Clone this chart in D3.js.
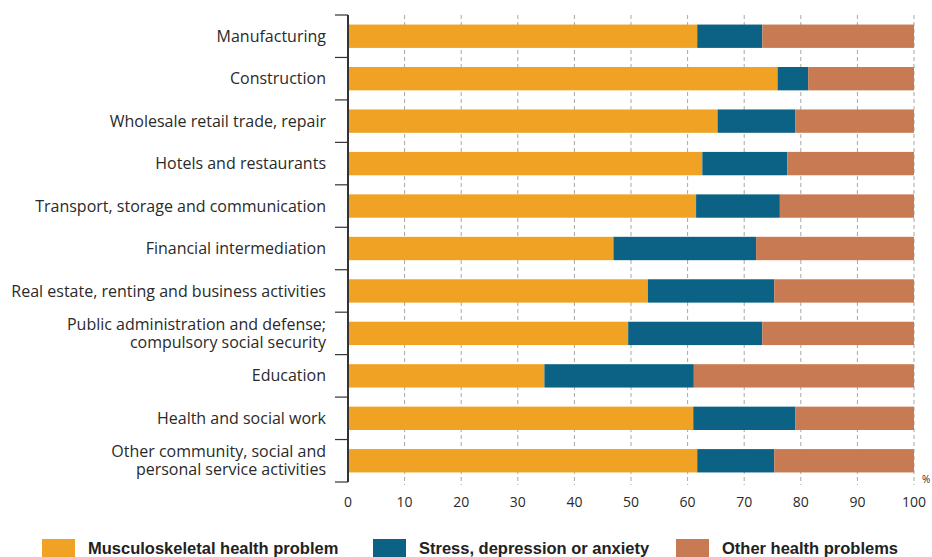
<!DOCTYPE html>
<html>
<head>
<meta charset="utf-8">
<script src="https://cdn.jsdelivr.net/npm/d3@7"></script>
<style>
  body { margin: 0; background: #fff; }
  svg { display: block; }
</style>
</head>
<body>
<div id="chart"></div>
<script>
const sectors = [
  ["Manufacturing"],
  ["Construction"],
  ["Wholesale retail trade, repair"],
  ["Hotels and restaurants"],
  ["Transport, storage and communication"],
  ["Financial intermediation"],
  ["Real estate, renting and business activities"],
  ["Public administration and defense;", "compulsory social security"],
  ["Education"],
  ["Health and social work"],
  ["Other community, social and", "personal service activities"]
]
const musculoskeletal = [61.7, 75.9, 65.3, 62.6, 61.5, 46.9, 53.0, 49.5, 34.7, 61.0, 61.7]
const stress = [11.5, 5.4, 13.7, 15.0, 14.8, 25.2, 22.3, 23.7, 26.4, 18.0, 13.6]
const other = [26.8, 18.7, 21.0, 22.4, 23.7, 27.9, 24.7, 26.8, 38.9, 21.0, 24.7]
const seriesNames = ["Musculoskeletal health problem", "Stress, depression or anxiety", "Other health problems"]
const xTicks = [0, 10, 20, 30, 40, 50, 60, 70, 80, 90, 100]

const colors = ["#f0a224", "#0b6285", "#c87a52"]
const width = 932, height = 557
const margin = { top: 15, left: 348, right: 18, bottom: 75 }

const svg = d3.select("#chart").append("svg")
  .attr("width", width)
  .attr("height", height)

const rows = sectors.map((s, i) => ({ key: i, label: s, m: musculoskeletal[i], s: stress[i], o: other[i] }))
const stack = d3.stack().keys(["m", "s", "o"])(rows)

const x = d3.scaleLinear().domain([0, 100]).range([margin.left, width - margin.right])
const y = d3.scaleBand().domain(rows.map(d => d.key))
  .range([margin.top, height - margin.bottom]).paddingInner(0.45).paddingOuter(0.225)
const step = y.step()
const bottom = height - margin.bottom

// dashed grid
svg.append("g").selectAll("line")
  .data(xTicks.slice(1))
  .join("line")
  .attr("x1", d => x(d)).attr("x2", d => x(d))
  .attr("y1", margin.top).attr("y2", bottom + 3)
  .attr("stroke", "#a8a8a0")
  .attr("stroke-width", 1)
  .attr("stroke-dasharray", "4,3")

// bars
svg.append("g").selectAll("g")
  .data(stack)
  .join("g")
  .attr("fill", (d, i) => colors[i])
  .selectAll("rect")
  .data(d => d)
  .join("rect")
  .attr("x", d => x(d[0]))
  .attr("y", d => y(d.data.key))
  .attr("width", d => x(d[1]) - x(d[0]))
  .attr("height", y.bandwidth())

// left axis with boundary ticks
const axisG = svg.append("g")
axisG.append("line")
  .attr("x1", x(0)).attr("x2", x(0))
  .attr("y1", margin.top).attr("y2", bottom)
  .attr("stroke", "#333").attr("stroke-width", 2)
axisG.selectAll("line.bt")
  .data(d3.range(rows.length + 1))
  .join("line")
  .attr("class", "bt")
  .attr("x1", x(0) - 13).attr("x2", x(0))
  .attr("y1", i => margin.top + i * step).attr("y2", i => margin.top + i * step)
  .attr("stroke", "#333").attr("stroke-width", 1.2)

// category labels
const labels = svg.append("g")
  .attr("font-family", "'Open Sans', sans-serif")
  .attr("font-size", 16)
  .attr("fill", "#2a2a2a")
  .attr("text-anchor", "end")
rows.forEach(r => {
  const cy = y(r.key) + y.bandwidth() / 2
  const n = r.label.length
  r.label.forEach((line, j) => {
    labels.append("text")
      .attr("x", x(0) - 22)
      .attr("y", cy + (j - (n - 1) / 2) * 18)
      .attr("dy", "0.35em")
      .text(line)
  })
})

// x tick labels
svg.append("g")
  .attr("font-family", "'Open Sans', sans-serif")
  .attr("font-size", 14)
  .attr("fill", "#2a2a2a")
  .attr("text-anchor", "middle")
  .selectAll("text")
  .data(xTicks)
  .join("text")
  .attr("x", d => x(d))
  .attr("y", bottom + 25)
  .text(d => d)

svg.append("text")
  .attr("x", x(100) + 8)
  .attr("y", bottom + 1)
  .attr("font-family", "'Open Sans', sans-serif")
  .attr("font-size", 10)
  .attr("fill", "#2a2a2a")
  .text("%")

// legend
const legendX = [42, 373, 676]
const legend = svg.append("g")
  .selectAll("g")
  .data(seriesNames)
  .join("g")
  .attr("transform", (d, i) => `translate(${legendX[i]},539)`)
legend.append("rect")
  .attr("width", 33).attr("height", 20)
  .attr("fill", (d, i) => colors[i])
legend.append("text")
  .attr("x", 46).attr("y", 15)
  .attr("font-family", "'Liberation Sans Narrow', 'Arial Narrow', sans-serif")
  .attr("font-weight", "bold")
  .attr("font-size", 16.5)
  .attr("fill", "#222")
  .text(d => d)
</script>
</body>
</html>
